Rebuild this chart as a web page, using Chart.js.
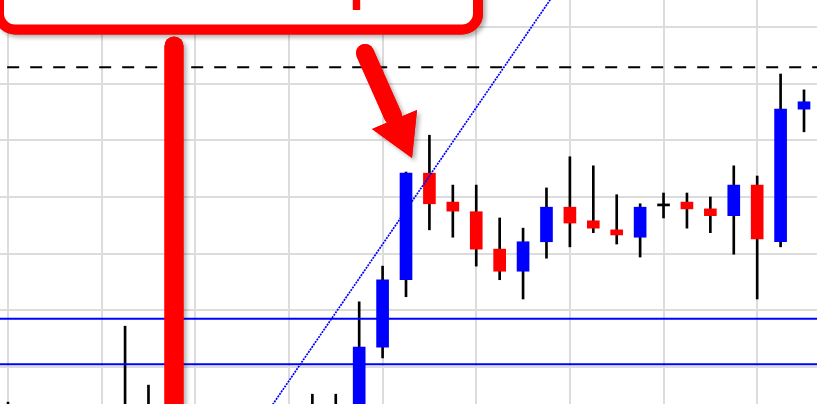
<!DOCTYPE html>
<html>
<head>
<meta charset="utf-8">
<script src="https://cdn.jsdelivr.net/npm/chart.js@4.4.0/dist/chart.umd.min.js"></script>
<style>
html, body { margin: 0; padding: 0; background: #fff; }
#chart { display: block; }
</style>
</head>
<body>
<canvas id="chart" width="817" height="404"></canvas>
<script>
// candle index (one per bar)
const bars = [0, 1, 2, 3, 4, 5, 6, 7, 8, 9, 10, 11, 12, 13, 14, 15, 16, 17,
              18, 19, 20, 21, 22, 23, 24, 25, 26, 27, 28, 29, 30, 31, 32, 33, 34]
const opens  = [91.0, 89.5, 87.0, 89.5, 88.0, 90.0, 91.5, 90.0, 87.5, 85.0, 87.5, 89.0,
                88.5, 90.0, 91.0, 92.0, 103.5, 115.4, 134.2, 129.1, 127.4, 120.8, 116.9,
                122.1, 128.2, 125.8, 124.2, 122.9, 128.6, 129.1, 127.9, 126.7, 132.1, 122.1, 145.5]
const highs  = [93.8, 92.0, 90.5, 92.5, 91.0, 107.2, 96.8, 92.8, 90.0, 88.5, 91.0, 92.0,
                91.5, 95.2, 95.2, 111.5, 117.8, 134.4, 140.9, 132.1, 132.1, 126.3, 124.5,
                131.6, 137.1, 135.5, 130.4, 128.8, 130.7, 130.7, 130.0, 135.5, 133.7, 151.7, 148.9]
const lows   = [88.5, 86.0, 84.5, 87.0, 85.0, 88.0, 89.0, 86.5, 84.0, 82.5, 86.0, 87.0,
                86.5, 88.5, 89.5, 91.0, 101.6, 112.4, 124.2, 122.9, 117.8, 115.4, 112.0,
                119.2, 121.2, 123.7, 121.7, 119.4, 126.3, 124.5, 123.7, 119.9, 112.0, 121.2, 141.5]
const closes = [89.5, 87.0, 89.5, 88.0, 90.0, 91.5, 90.0, 87.5, 85.0, 87.5, 89.0, 88.5,
                90.0, 91.0, 92.0, 103.5, 115.4, 134.2, 128.8, 127.5, 120.8, 116.9, 122.1,
                128.2, 125.4, 124.5, 123.3, 128.2, 128.6, 127.9, 126.7, 132.1, 122.6, 145.5, 146.8]

// drawn levels
const supportLevels = [108.5, 100.5]
const resistanceLevel = 152.9
const trendX = [10, 25]
const trendY = [85.5, 175.9]

// grid positions
const gridX = [0, 4, 8, 12, 16, 20, 24, 28, 32]
const gridY = [100, 110, 120, 130, 140, 150, 160]

const upColor = "#0000ff"
const downColor = "#ff0000"

const bodyColors = bars.map(i => closes[i] > opens[i] ? upColor : (closes[i] < opens[i] ? downColor : "#000000"))

const markup = {
    id: "markup",
    afterDraw(chart) {
        const ctx = chart.ctx
        ctx.save()
        const shadow = () => {
            ctx.shadowColor = "rgba(0,0,0,0.3)"
            ctx.shadowBlur = 4
            ctx.shadowOffsetX = 3
            ctx.shadowOffsetY = 3
        }
        const noShadow = () => {
            ctx.shadowColor = "transparent"
            ctx.shadowBlur = 0
            ctx.shadowOffsetX = 0
            ctx.shadowOffsetY = 0
        }

        // callout box
        ctx.beginPath()
        ctx.roundRect(-1, -60, 479, 89.5, 16)
        ctx.lineWidth = 10
        ctx.strokeStyle = "#ff0000"
        shadow()
        ctx.stroke()
        noShadow()
        ctx.fillStyle = "#ffffff"
        ctx.fill()
        ctx.stroke()
        ctx.fillStyle = "#ff0000"
        ctx.font = "bold 54px 'Liberation Sans', Arial, sans-serif"
        ctx.textAlign = "left"
        ctx.textBaseline = "alphabetic"
        ctx.fillText("Breakout setups", -11, -1)

        // vertical marker and arrow
        const drawMarks = () => {
            ctx.strokeStyle = "#ff0000"
            ctx.fillStyle = "#ff0000"
            ctx.lineCap = "round"
            ctx.lineWidth = 19
            ctx.beginPath()
            ctx.moveTo(174, 46)
            ctx.lineTo(174, 440)
            ctx.stroke()

            ctx.lineWidth = 18
            ctx.beginPath()
            ctx.moveTo(365, 53)
            ctx.lineTo(393, 116)
            ctx.stroke()
            ctx.beginPath()
            ctx.moveTo(372, 129)
            ctx.lineTo(417, 110)
            ctx.lineTo(412, 158)
            ctx.closePath()
            ctx.fill()
        }
        shadow()
        drawMarks()
        noShadow()
        drawMarks()
        ctx.restore()
    }
}

const axisGrid = {
    color: "#dcdcdc",
    lineWidth: 2,
    drawTicks: false,
    offset: false,
}

let myChart = new Chart(document.querySelector("#chart"), {
    type: "bar",
    plugins: [markup],
    data: {
        datasets: [
            {
                type: "line",
                data: trendX.map((x, i) => ({x: x, y: trendY[i]})),
                borderColor: upColor,
                borderWidth: 1.7,
                borderDash: [2, 1],
                pointRadius: 0,
                order: 1,
            },
            {
                type: "line",
                data: [{x: -2, y: supportLevels[0]}, {x: 40, y: supportLevels[0]}],
                borderColor: upColor,
                borderWidth: 2,
                pointRadius: 0,
                order: 2,
            },
            {
                type: "line",
                data: [{x: -2, y: supportLevels[1]}, {x: 40, y: supportLevels[1]}],
                borderColor: upColor,
                borderWidth: 2,
                pointRadius: 0,
                order: 2,
            },
            {
                type: "line",
                data: [{x: -2, y: resistanceLevel}, {x: 40, y: resistanceLevel}],
                borderColor: "#000000",
                borderWidth: 2,
                borderDash: [12, 11],
                pointRadius: 0,
                order: 3,
            },
            {
                data: bars.map(i => ({x: i, y: opens[i] === closes[i] ? [opens[i] - 0.18, opens[i] + 0.18] : [opens[i], closes[i]]})),
                backgroundColor: bodyColors,
                barThickness: 12,
                grouped: false,
                order: 4,
            },
            {
                data: bars.map(i => ({x: i, y: [lows[i], highs[i]]})),
                backgroundColor: "#000000",
                barThickness: 2,
                grouped: false,
                order: 5,
            },
        ],
    },
    options: {
        responsive: false,
        animation: false,
        events: [],
        layout: {padding: 0},
        plugins: {
            legend: {display: false},
            tooltip: {enabled: false},
        },
        scales: {
            x: {
                type: "linear",
                offset: false,
                min: -0.342,
                max: 34.555,
                afterBuildTicks: s => { s.ticks = gridX.map(v => ({value: v})) },
                ticks: {display: false},
                grid: axisGrid,
                border: {display: false},
            },
            y: {
                type: "linear",
                min: 93.47,
                max: 164.76,
                afterBuildTicks: s => { s.ticks = gridY.map(v => ({value: v})) },
                ticks: {display: false},
                grid: axisGrid,
                border: {display: false},
            },
        },
    },
})
</script>
</body>
</html>
